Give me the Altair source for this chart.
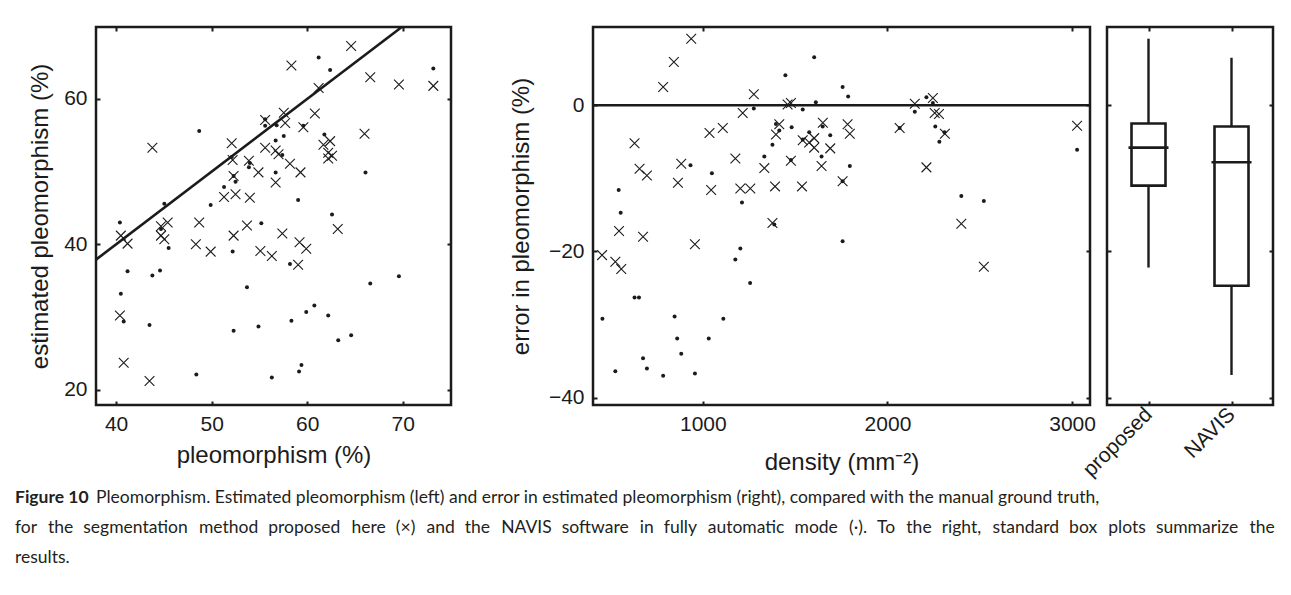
import altair as alt
import pandas as pd

# ---------------- data ----------------
# Left panel: ground-truth pleomorphism (%) vs estimated pleomorphism (%)
proposed_true = [64.6, 58.35, 66.6, 69.6, 61.2, 57.55, 60.8, 55.6, 57.7, 59.6,
                 66.0, 43.8, 52.1, 55.6, 56.7, 61.7, 62.4, 57.0, 62.2, 62.6,
                 62.2, 52.2, 53.9, 58.2, 54.9, 59.3, 52.3, 56.7, 51.3, 52.5,
                 54.0, 45.4, 44.7, 40.5, 41.2, 44.7, 45.05, 48.7, 48.35, 49.9,
                 52.3, 53.7, 55.1, 56.3, 57.4, 59.2, 59.9, 59.05, 63.2, 40.4,
                 40.8, 43.5, 73.2]
proposed_est = [67.3, 64.6, 63.0, 62.0, 61.5, 58.1, 58.0, 57.1, 56.7, 56.1,
                55.2, 53.3, 53.9, 53.3, 52.9, 53.7, 54.2, 52.4, 52.6, 52.2,
                51.8, 51.6, 51.5, 51.1, 49.9, 49.9, 49.4, 48.5, 46.5, 46.9,
                46.4, 43.0, 42.5, 41.2, 40.1, 41.2, 40.7, 43.0, 40.0, 39.0,
                41.2, 42.6, 39.1, 38.4, 41.5, 40.3, 39.4, 37.2, 42.1, 30.2,
                23.7, 21.2, 61.8]
navis_true = [61.2, 62.4, 48.7, 55.6, 55.6, 56.8, 57.55, 56.7, 59.6, 61.8,
              57.4, 52.1, 54.0, 53.9, 56.7, 52.3, 52.5, 51.3, 66.1, 59.05,
              49.9, 45.05, 62.6, 40.4, 44.7, 45.5, 55.2, 52.2, 58.2, 41.2,
              43.8, 44.6, 40.5, 53.7, 66.6, 69.6, 40.8, 43.5, 52.3, 54.9,
              58.35, 59.9, 60.75, 62.2, 63.25, 64.6, 48.4, 56.3, 59.15, 59.4,
              73.2]
navis_est = [65.7, 64.0, 55.6, 57.2, 56.3, 56.4, 54.9, 54.3, 56.3, 55.1,
             52.3, 52.0, 51.2, 50.6, 49.9, 49.4, 48.6, 47.9, 49.9, 46.1,
             45.4, 45.6, 44.1, 43.0, 42.1, 39.5, 42.9, 39.0, 37.3, 36.3,
             35.7, 36.4, 33.2, 34.1, 34.6, 35.6, 29.4, 28.9, 28.1, 28.7,
             29.5, 30.7, 31.6, 30.2, 26.8, 27.5, 22.1, 21.7, 22.5, 23.4,
             64.2]
identity_ends = [37.9, 69.9]

# Middle panel: nuclei density (mm^-2) vs error in pleomorphism (%)
proposed_density = [937, 843, 785, 1276, 1216, 1459, 1477, 1108, 1036, 630,
                    1414, 1396, 883, 657, 697, 865, 1176, 1333, 1477, 1045,
                    1203, 1257, 1391, 1650, 1784, 1796, 1541, 1576, 1603, 1603,
                    1690, 1643, 1537, 1757, 2066, 2148, 2246, 2256, 2279, 2311,
                    2211, 3027, 1377, 546, 676, 957, 454, 526, 558, 2400,
                    2522]
proposed_error = [9.1, 5.9, 2.5, 1.5, -1.05, 0.1, 0.3, -3.1, -3.8, -5.2,
                  -2.6, -4.0, -8.0, -8.7, -9.6, -10.6, -7.3, -8.6, -7.6, -11.6,
                  -11.4, -11.4, -11.1, -2.4, -2.6, -3.9, -4.8, -5.1, -4.5, -5.8,
                  -5.9, -8.3, -11.1, -10.4, -3.1, 0.2, 1.0, -1.05, -1.2, -3.9,
                  -8.5, -2.8, -16.1, -17.2, -18.0, -19.0, -20.5, -21.4, -22.4, -16.2,
                  -22.1]
navis_density = [1447, 1276, 1396, 1414, 1481, 1377, 1333, 1477, 933, 1049,
                 1212, 544, 555, 1603, 1757, 1787, 1612, 1541, 2211, 2246,
                 2148, 1649, 1690, 1576, 1541, 1643, 1796, 2066, 2259, 2309,
                 2281, 1757, 2400, 2522, 3027, 1387, 1203, 1176, 1256, 630,
                 654, 456, 847, 1111, 861, 1032, 883, 676, 697, 526,
                 785, 957, 1757]
navis_error = [4.1, -0.45, -2.55, -3.45, -3.0, -5.4, -7.0, -7.5, -8.2, -9.3,
               -13.3, -11.6, -14.7, 6.55, 2.5, 1.2, 0.4, -0.6, 1.1, 0.3,
               -0.9, -2.9, -4.1, -3.7, -4.7, -7.0, -8.3, -3.1, -2.9, -3.7,
               -5.0, -10.4, -12.4, -13.1, -6.1, -16.3, -19.6, -21.1, -24.3, -26.3,
               -26.3, -29.2, -28.9, -29.2, -31.9, -31.9, -34.0, -34.6, -36.0, -36.4,
               -37.0, -36.7, -18.6]
zero_level = [0]

# Right panel: box plot summaries of the error (%)
box_methods = ["proposed", "NAVIS"]
box_low = [-22.2, -36.9]
box_q1 = [-11.0, -24.7]
box_median = [-5.8, -7.8]
box_q3 = [-2.5, -2.9]
box_high = [9.1, 6.5]

left_x_ticks = [40, 50, 60, 70]
left_y_ticks = [20, 40, 60]
density_ticks = [1000, 2000, 3000]
error_ticks = [-40, -20, 0]

caption_bold = "Figure 10"
caption_lines = [
    "Pleomorphism. Estimated pleomorphism (left) and error in estimated pleomorphism (right), compared with the manual ground truth,",
    "for the segmentation method proposed here (\u00d7) and the NAVIS software in fully automatic mode (\u00b7). To the right, standard box plots summarize the",
    "results.",
]
# the second caption line is justified to the full width in the original:
# widen its word gaps with non-collapsing spaces
_words = caption_lines[1].split(" ")
caption_lines[1] = _words[0] + "".join(
    (" \u00a0\u200a" + ("\u200a" if i % 2 == 0 else "")) + w for i, w in enumerate(_words[1:])
)

# ---------------- style ----------------
INK = "#1b1b1b"
FONT = "Liberation Sans"
CAPFONT = "Lato"
CAPSIZE = 17.5
LAB = 21
TIT = 24
TICK = 4
CROSS = "M-1,-1L1,1M-1,1L1,-1"


def ax_main(values, title, fmt=None, lp=8, tp=14, **kw):
    d = dict(title=title, offset=-TICK, tickSize=TICK, tickWidth=2, tickColor=INK,
             domain=False, grid=False, labelPadding=lp, titlePadding=tp,
             labelFont=FONT, labelFontSize=LAB, labelColor=INK,
             titleFont=FONT, titleFontSize=TIT, titleFontWeight="normal",
             titleColor=INK, labelFlush=False, labelOverlap=False)
    if values is not None:
        d["values"] = values
    if fmt is not None:
        d["format"] = fmt
    d.update(kw)
    return alt.Axis(**d)


def ax_mirror(values, orient, labels=False):
    d = dict(orient=orient, labels=labels, title=None, offset=-TICK, tickSize=TICK,
             tickWidth=2, tickColor=INK, domain=False, grid=False)
    if values is not None:
        d["values"] = values
    return alt.Axis(**d)


H = 378

# ---------------- left panel ----------------
lx = alt.Scale(domain=[37.9, 75.05], nice=False, zero=False)
ly = alt.Scale(domain=[17.9, 69.9], nice=False, zero=False)

l_prop = pd.DataFrame({"t": proposed_true, "e": proposed_est})
l_nav = pd.DataFrame({"t": navis_true, "e": navis_est})
l_diag = pd.DataFrame({"t": identity_ends, "e": identity_ends})

left_line = alt.Chart(l_diag).mark_line(color=INK, strokeWidth=2.6).encode(
    x=alt.X("t:Q", scale=lx, axis=None),
    y=alt.Y("e:Q", scale=ly, axis=None),
)
left_cross = alt.Chart(l_prop).mark_point(
    shape=CROSS, size=95, filled=False, stroke=INK, strokeWidth=1.1, opacity=1
).encode(
    x=alt.X("t:Q", scale=lx, axis=ax_main(left_x_ticks, "pleomorphism (%)", tp=9)),
    y=alt.Y("e:Q", scale=ly, axis=ax_main(left_y_ticks, "estimated pleomorphism (%)", lp=9, tp=11)),
)
left_dot = alt.Chart(l_nav).mark_circle(size=16, color=INK, opacity=1).encode(
    x=alt.X("t:Q", scale=lx, axis=ax_mirror(left_x_ticks, "top")),
    y=alt.Y("e:Q", scale=ly, axis=ax_mirror(left_y_ticks, "right")),
)
left = alt.layer(left_line, left_cross, left_dot).resolve_axis(
    x="independent", y="independent"
).properties(width=355, height=H)

# ---------------- middle panel ----------------
mx = alt.Scale(domain=[405, 3097], nice=False, zero=False)
ey = alt.Scale(domain=[-41.0, 10.7], nice=False, zero=False)

m_prop = pd.DataFrame({"d": proposed_density, "e": proposed_error})
m_nav = pd.DataFrame({"d": navis_density, "e": navis_error})
m_zero = pd.DataFrame({"e": zero_level})

mid_zero = alt.Chart(m_zero).mark_rule(color=INK, strokeWidth=2.6).encode(
    y=alt.Y("e:Q", scale=ey, axis=None)
)
mid_cross = alt.Chart(m_prop).mark_point(
    shape=CROSS, size=95, filled=False, stroke=INK, strokeWidth=1.1, opacity=1
).encode(
    x=alt.X("d:Q", scale=mx, axis=ax_main(density_ticks, "density (mm\u207b\u00b2)", fmt="d", tp=16)),
    y=alt.Y("e:Q", scale=ey, axis=ax_main(error_ticks, "error in pleomorphism (%)", lp=9, tp=15)),
)
mid_dot = alt.Chart(m_nav).mark_circle(size=16, color=INK, opacity=1).encode(
    x=alt.X("d:Q", scale=mx, axis=ax_mirror(density_ticks, "top")),
    y=alt.Y("e:Q", scale=ey, axis=ax_mirror(error_ticks, "right")),
)
middle = alt.layer(mid_zero, mid_cross, mid_dot).resolve_axis(
    x="independent", y="independent"
).properties(width=497, height=H)

# ---------------- box panel ----------------
bx = alt.Scale(type="point", domain=box_methods, padding=0.5)
b_df = pd.DataFrame({"method": box_methods, "low": box_low, "q1": box_q1,
                     "median": box_median, "q3": box_q3, "high": box_high})

whisk = alt.Chart(b_df).mark_rule(color=INK, strokeWidth=2.4).encode(
    x=alt.X("method:N", scale=bx, sort=box_methods, axis=ax_mirror(None, "top")),
    y=alt.Y("low:Q", scale=ey, axis=ax_mirror(error_ticks, "right")),
    y2="high:Q",
)
boxes = alt.Chart(b_df).mark_bar(width=34, fill="white", stroke=INK, strokeWidth=2.6, opacity=1).encode(
    x=alt.X("method:N", scale=bx, sort=box_methods,
            axis=ax_main(None, None, labelAngle=-45, labelAlign="right",
                         labelBaseline="middle", lp=6)),
    y=alt.Y("q1:Q", scale=ey, axis=ax_mirror(error_ticks, "left")),
    y2="q3:Q",
)
meds = alt.Chart(b_df).mark_tick(size=40, thickness=2.6, color=INK, opacity=1).encode(
    x=alt.X("method:N", scale=bx, sort=box_methods, axis=None),
    y=alt.Y("median:Q", scale=ey, axis=None),
)
boxpanel = alt.layer(whisk, boxes, meds).resolve_axis(
    x="independent", y="independent"
).properties(width=166, height=H)

# ---------------- caption ----------------
cap_bold_df = pd.DataFrame({"text": [caption_bold]})
cap_df = pd.DataFrame({"text": caption_lines, "row": [0, 1, 2]})

cap_bold = alt.Chart(cap_bold_df).mark_text(
    align="left", baseline="middle", font=CAPFONT, fontSize=CAPSIZE, fontWeight="bold", color="#231f20"
).encode(x=alt.value(-81), y=alt.value(0), text="text:N")

cap_first = alt.Chart(cap_df).transform_filter("datum.row == 0").mark_text(
    align="left", baseline="middle", font=CAPFONT, fontSize=CAPSIZE, color="#231f20"
).encode(x=alt.value(0), y=alt.value(0), text="text:N")

cap_rest = alt.Chart(cap_df).transform_filter("datum.row > 0").mark_text(
    align="left", baseline="middle", font=CAPFONT, fontSize=CAPSIZE, color="#231f20"
).encode(
    x=alt.value(-81),
    y=alt.Y("row:Q", scale=alt.Scale(domain=[1, 2], range=[30, 60]), axis=None),
    text="text:N",
)
caption = alt.layer(cap_bold, cap_first, cap_rest).properties(
    width=10, height=60, view=alt.ViewBackground(stroke="transparent")
)

right = alt.hconcat(middle, boxpanel, spacing=17, bounds="flush")
top = alt.hconcat(left, right, spacing=54)

chart = alt.vconcat(top, caption, spacing=5).properties(
    padding={"left": 5, "top": 12, "right": 5, "bottom": 5}
).configure(
    font=FONT, background="white",
    view=alt.ViewConfig(stroke=INK, strokeWidth=2.5),
)

chart.save("out.html", embed_options={"renderer": "svg", "actions": False})
